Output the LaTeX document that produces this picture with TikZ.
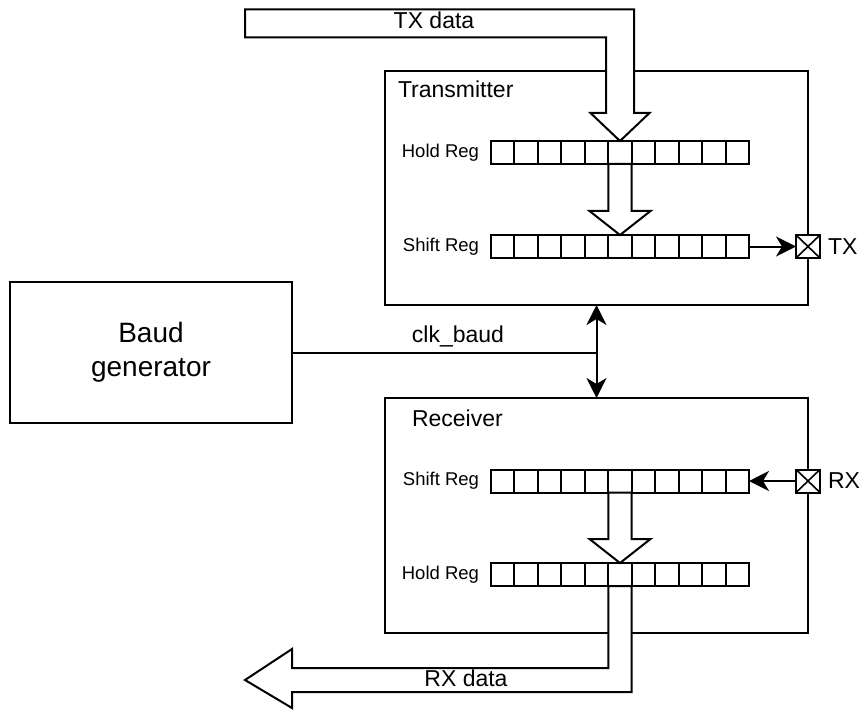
\documentclass[tikz,border=0pt]{standalone}
\usepackage{fontspec}
\setmainfont{Liberation Sans}
\usetikzlibrary{arrows.meta,calc}

\begin{document}
\begin{tikzpicture}[x=1pt,y=-1pt,
  line width=2pt,
  box/.style={draw, rectangle, inner sep=0pt, outer sep=0pt},
  cell/.style={draw, rectangle, inner sep=0pt, outer sep=0pt,
    minimum width=23.4545pt, minimum height=23pt},
  pinbox/.style={draw, rectangle, inner sep=0pt, outer sep=0pt,
    minimum width=24pt, minimum height=23pt, fill=white,
    path picture={\draw[line width=1.6pt]
      (path picture bounding box.north west) -- (path picture bounding box.south east)
      (path picture bounding box.north east) -- (path picture bounding box.south west);}},
  bigtxt/.style={font=\fontsize{23}{27}\selectfont, inner sep=0pt},
  regtxt/.style={font=\fontsize{18.5}{22}\selectfont, inner sep=0pt},
  hollow/.style={draw, fill=white, line join=miter},
  tip/.tip={Stealth[length=20pt,width=20pt,inset=6pt]},
  sig/.style={-tip},
  bisig/.style={tip-tip},
]
\useasboundingbox (0,0) rectangle (861,711);

% main blocks
\node[box, minimum width=423pt, minimum height=234pt] (tx) at (596.5,188) {};
\node[box, minimum width=423pt, minimum height=235pt] (rx) at (596.5,515.5) {};
\node[box, minimum width=282pt, minimum height=141pt,
      font=\fontsize{28}{34}\selectfont, align=center] (baud) at (151,352.5) {Baud\\generator};

\node[bigtxt, anchor=base west] (txlbl) at (397,98) {Transmitter};
\node[bigtxt, anchor=base west] (rxlbl) at (411,426) {Receiver};

% 11-bit registers
\foreach \r/\y in {txh/152.5, txs/246.5, rxs/481, rxh/574.5}{
  \foreach \i in {1,...,11}{
    \node[cell] (\r-\i) at ({491+(\i-0.5)*23.4545}, \y) {};
  }
}

\node[regtxt, anchor=east] (txhl) at ([xshift=-11pt]txh-1.west) {Hold Reg};
\node[regtxt, anchor=east] (txsl) at ([xshift=-11pt]txs-1.west) {Shift Reg};
\node[regtxt, anchor=east] (rxsl) at ([xshift=-11pt]rxs-1.west) {Shift Reg};
\node[regtxt, anchor=east] (rxhl) at ([xshift=-11pt]rxh-1.west) {Hold Reg};

% parallel data transfers (hollow block arrows)
\draw[hollow] (245,9.5) -- (634,9.5) -- (634,113) -- (649.5,113) -- (txh-6.north)
  -- (590.5,113) -- (606,113) -- (606,37.5) -- (245,37.5) -- cycle;
\node[bigtxt, anchor=base] (txdata) at (434,29) {TX data};

\draw[hollow] (txh-6.south west) -- (txh-6.south west |- 0,211) -- (589.5,211)
  -- (txs-6.north) -- (650.5,211) -- (txh-6.south east |- 0,211)
  -- (txh-6.south east) -- cycle;

\draw[hollow] (rxs-6.south west) -- (rxs-6.south west |- 0,539) -- (589.5,539)
  -- (rxh-6.north) -- (650.5,539) -- (rxs-6.south east |- 0,539)
  -- (rxs-6.south east) -- cycle;

\draw[hollow] (rxh-6.south west) -- (rxh-6.south west |- 0,668) -- (292,668)
  -- (292,649) -- (245,680) -- (292,708) -- (292,692)
  -- (rxh-6.south east |- 0,692) -- (rxh-6.south east) -- cycle;
\node[bigtxt, anchor=base] (rxdata) at (466,686) {RX data};

% serial pins
\node[pinbox] (txpin) at (tx.east |- txs-11.center) {};
\node[pinbox] (rxpin) at (rx.east |- rxs-11.center) {};
\node[bigtxt, anchor=west] (txpl) at ([xshift=7pt]txpin.east) {TX};
\node[bigtxt, anchor=west] (rxpl) at ([xshift=7pt]rxpin.east) {RX};

\draw[sig] (txs-11.east) -- (txpin.west);
\draw[sig] (rxpin.west) -- (rxs-11.east);

% baud clock distribution
\coordinate (clkj) at (baud.east -| tx.south);
\draw (baud.east) -- (clkj);
\draw[bisig] (tx.south) -- (rx.north);
\node[bigtxt, anchor=base] (clkl) at (458,342) {clk\_baud};
\end{tikzpicture}
\end{document}
